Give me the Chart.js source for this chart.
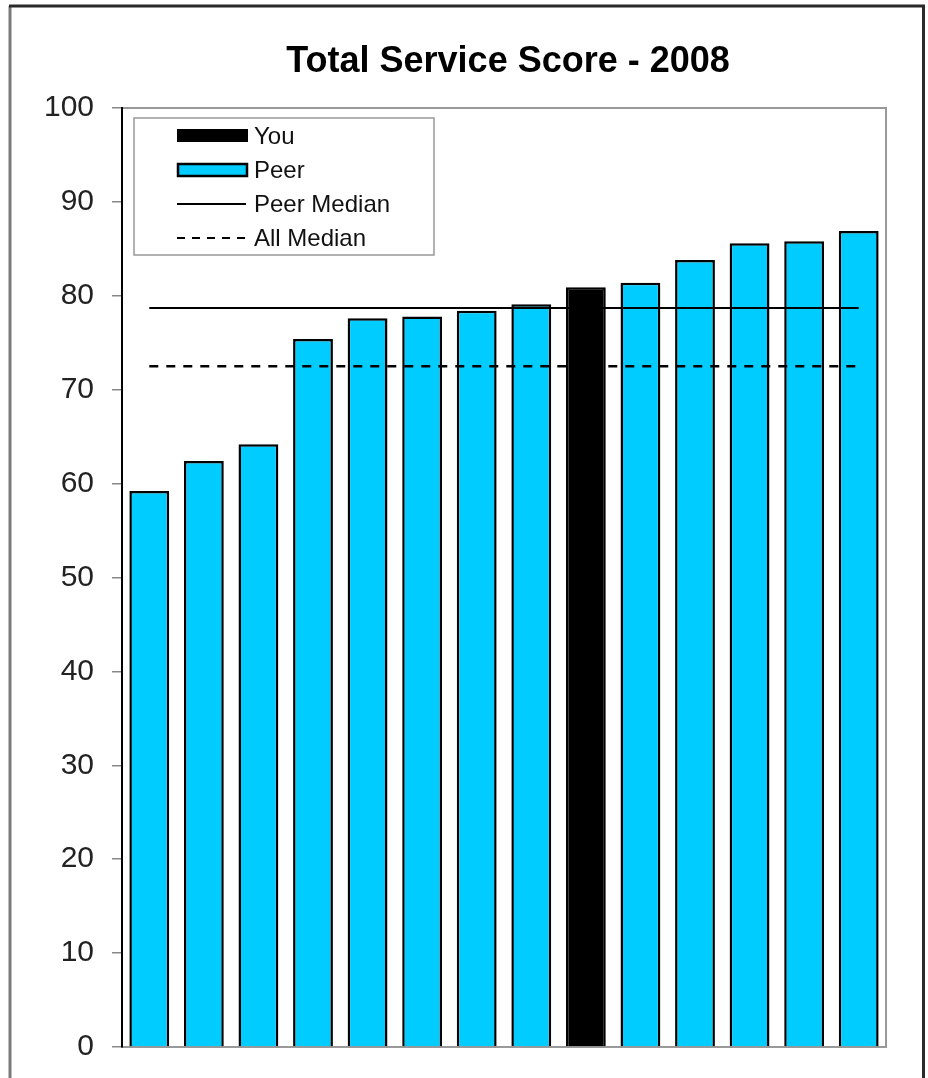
<!DOCTYPE html>
<html>
<head>
<meta charset="utf-8">
<script src="https://cdn.jsdelivr.net/npm/chart.js@4/dist/chart.umd.min.js"></script>
<style>
  html, body { margin: 0; padding: 0; background: #fff; }
  #wrap { width: 928px; height: 1078px; position: relative; }
</style>
</head>
<body>
<div id="wrap"><canvas id="grafico"></canvas></div>
<script>
// data
const categorias = ['P1', 'P2', 'P3', 'P4', 'P5', 'P6', 'P7', 'P8', 'You', 'P9', 'P10', 'P11', 'P12', 'P13'];
const scores = [59.2, 62.4, 64.2, 75.4, 77.6, 77.8, 78.4, 79.1, 80.9, 81.4, 83.8, 85.6, 85.8, 86.9];
const peerMedian = 78.7;
const allMedian = 72.5;
const yTicks = [0, 10, 20, 30, 40, 50, 60, 70, 80, 90, 100];
const titulo = 'Total Service Score - 2008';
const legendaItens = ['You', 'Peer', 'Peer Median', 'All Median'];

const CYAN = '#00CCFF';
const corBarras = categorias.map(c => c === 'You' ? '#000000' : CYAN);

// line from first to last category
const linhaMediana = v => [
    { x: categorias[0], y: v },
    { x: categorias[categorias.length - 1], y: v }
];

const molduraPlugin = {
    id: 'moldura',
    beforeDraw(chart) {
        const ctx = chart.ctx;
        ctx.save();
        ctx.fillStyle = '#fff';
        ctx.fillRect(0, 0, chart.width, chart.height);
        // outer frame
        ctx.strokeStyle = '#7a7a7a';
        ctx.lineWidth = 3;
        ctx.beginPath();
        ctx.moveTo(10, chart.height + 5);
        ctx.lineTo(10, 6);
        ctx.stroke();
        ctx.strokeStyle = '#2a2a2a';
        ctx.beginPath();
        ctx.moveTo(9, 6);
        ctx.lineTo(923.5, 6);
        ctx.lineTo(923.5, chart.height + 5);
        ctx.stroke();
        // plot box top/right
        const a = chart.chartArea;
        ctx.strokeStyle = '#999';
        ctx.lineWidth = 2;
        ctx.beginPath();
        ctx.moveTo(a.left, a.top);
        ctx.lineTo(a.right, a.top);
        ctx.lineTo(a.right, a.bottom);
        ctx.stroke();
        // title
        ctx.fillStyle = '#000';
        ctx.font = 'bold 36px "Liberation Sans", Arial, sans-serif';
        ctx.textAlign = 'center';
        ctx.textBaseline = 'middle';
        ctx.fillText(titulo, 508, 62);
        ctx.restore();
    },
    afterDraw(chart) {
        // legend box inside the plot
        const ctx = chart.ctx;
        ctx.save();
        ctx.fillStyle = '#fff';
        ctx.fillRect(134, 118, 300, 137);
        ctx.strokeStyle = '#999';
        ctx.lineWidth = 1.5;
        ctx.strokeRect(134, 118, 300, 137);
        const ys = [136, 170, 204, 238];
        ctx.font = '24px "Liberation Sans", Arial, sans-serif';
        ctx.textBaseline = 'middle';
        ctx.textAlign = 'left';
        legendaItens.forEach((t, i) => {
            const y = ys[i];
            if (i === 0) {
                ctx.fillStyle = '#000';
                ctx.fillRect(177, y - 7, 71, 13);
            } else if (i === 1) {
                ctx.fillStyle = CYAN;
                ctx.fillRect(178, y - 6, 69, 12);
                ctx.strokeStyle = '#000';
                ctx.lineWidth = 2.5;
                ctx.strokeRect(178, y - 6, 69, 12);
            } else {
                ctx.strokeStyle = '#000';
                ctx.lineWidth = 2;
                ctx.setLineDash(i === 3 ? [8, 7] : []);
                ctx.beginPath();
                ctx.moveTo(177, y);
                ctx.lineTo(246, y);
                ctx.stroke();
                ctx.setLineDash([]);
            }
            ctx.fillStyle = '#111';
            ctx.fillText(t, 254, y + 1);
        });
        ctx.restore();
    }
};

const config = {
    type: 'bar',
    data: {
        labels: categorias,
        datasets: [
            {
                type: 'line',
                label: 'Peer Median',
                data: linhaMediana(peerMedian),
                borderColor: '#000',
                borderWidth: 2,
                pointRadius: 0,
                order: 0
            },
            {
                type: 'line',
                label: 'All Median',
                data: linhaMediana(allMedian),
                borderColor: '#000',
                borderWidth: 2.5,
                borderDash: [9, 8],
                pointRadius: 0,
                order: 0
            },
            {
                label: 'Score',
                data: scores,
                backgroundColor: corBarras,
                borderColor: '#000',
                borderWidth: 2.5,
                categoryPercentage: 1.0,
                barPercentage: 0.73,
                order: 1
            }
        ]
    },
    options: {
        responsive: true,
        maintainAspectRatio: false,
        animation: false,
        layout: { padding: { left: 10, top: 108, right: 42, bottom: 31 } },
        plugins: {
            legend: { display: false },
            title: { display: false },
            tooltip: { enabled: false }
        },
        scales: {
            x: {
                ticks: { display: false },
                grid: { display: false, drawTicks: false },
                border: { display: true, color: '#999', width: 2 },
                afterFit: s => { s.height = 0; }
            },
            y: {
                min: 0,
                max: 100,
                afterBuildTicks: s => { s.ticks = yTicks.map(v => ({ value: v })); },
                ticks: {
                    color: '#222',
                    padding: 18,
                    font: { size: 30, family: '"Liberation Sans", Arial, sans-serif' }
                },
                grid: { drawOnChartArea: false, tickLength: 10, color: '#888', lineWidth: 1.5 },
                border: { display: true, color: '#000', width: 2 },
                afterFit: s => {
                    s.width = 112;
                    s.paddingTop = 0;
                    s.paddingBottom = 0;
                }
            }
        }
    },
    plugins: [molduraPlugin]
};

new Chart(document.getElementById('grafico'), config);
</script>
</body>
</html>
